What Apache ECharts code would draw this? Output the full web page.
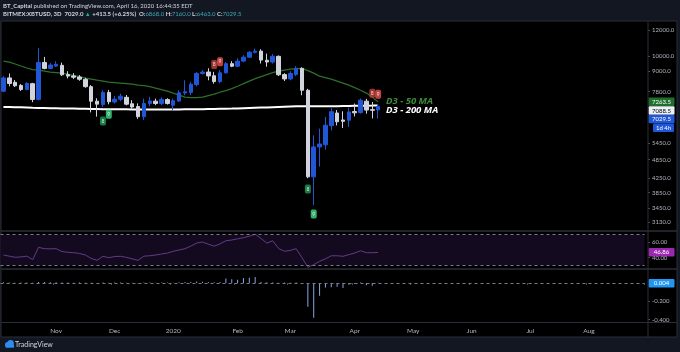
<!DOCTYPE html>
<html>
<head>
<meta charset="utf-8">
<script src="https://cdn.jsdelivr.net/npm/echarts@6/dist/echarts.min.js"></script>
<style>
  html, body { margin: 0; padding: 0; background: #131722; }
  #chart { width: 680px; height: 352px; }
</style>
</head>
<body>
<div id="chart"></div>
<script>
// ---- bars: 3D candles, first bar 2019-10-06 ----
const FIRST_BAR = Date.UTC(2019, 9, 6);
const BAR_DAYS = 3;
const SLOTS = 110; // visible bars incl. empty future space
const MONTHS = ['Jan', 'Feb', 'Mar', 'Apr', 'May', 'Jun', 'Jul', 'Aug', 'Sep', 'Oct', 'Nov', 'Dec'];

// [open, close, low, high]
const candles = [
  [7830, 8590, 7780, 8700], [8590, 8260, 8100, 8860], [8330, 8130, 8060, 8460], [8150, 7920, 7840, 8230],
  [7920, 8260, 7880, 8340], [8250, 7390, 7250, 8300], [7390, 9570, 7340, 10590], [9570, 9180, 9120, 9950],
  [9180, 9400, 9130, 9530], [9330, 9450, 9280, 9650], [9380, 8780, 8710, 9560], [8790, 8700, 8560, 9000],
  [8710, 8630, 8520, 8880], [8640, 8510, 8420, 8760], [8500, 8080, 8020, 8600], [8080, 7300, 6750, 8170],
  [7300, 7150, 6550, 7450], [7130, 7760, 7000, 7880], [7760, 7270, 7140, 7900], [7260, 7400, 7180, 7560],
  [7400, 7560, 7300, 7700], [7500, 7150, 7090, 7620], [7170, 7010, 6930, 7350], [7030, 6550, 6450, 7190],
  [6550, 7180, 6400, 7430], [7180, 7310, 7050, 7530], [7300, 7180, 7100, 7430], [7180, 7390, 7100, 7500],
  [7380, 7180, 7130, 7450], [7100, 7320, 6850, 7430], [7310, 7740, 7260, 7880], [7730, 7800, 7610, 8450],
  [7760, 8220, 7610, 8340], [8200, 8860, 8100, 8950], [8860, 8950, 8790, 9070], [8950, 8710, 8450, 9190],
  [8720, 8370, 8250, 8960], [8370, 8900, 8280, 9070], [8900, 9490, 8860, 9600], [9490, 9320, 9260, 9660],
  [9320, 9660, 9260, 9860], [9660, 9930, 9590, 10070], [9930, 10280, 9860, 10360], [10270, 10360, 10200, 10550],
  [10360, 9730, 9500, 10500], [9720, 9600, 9290, 10180], [9600, 9990, 9500, 10150], [9990, 8780, 8700, 10050],
  [8790, 8530, 8400, 8880], [8530, 8860, 8450, 9000], [8800, 9180, 8700, 9330], [9180, 7880, 7610, 9250],
  [7880, 4300, 4260, 7960], [4300, 5300, 3530, 5750], [5300, 5410, 4620, 6030], [5380, 6170, 5200, 6540],
  [6150, 6780, 5950, 6950], [6720, 6320, 6160, 6860], [6400, 6340, 6050, 6800], [6390, 6770, 6100, 6980],
  [6790, 6730, 6560, 7180], [6740, 7350, 6690, 7440], [7300, 6860, 6690, 7420], [6880, 6850, 6470, 7260],
  [6868, 7029.5, 6463, 7160]
];

const ma50 = [
  9661, 9596, 9464, 9333, 9205, 9104, 9072, 9009, 8945, 8915, 8883, 8820, 8730, 8669, 8576, 8519,
  8456, 8400, 8339, 8312, 8283, 8255, 8222, 8168, 8140, 8083, 7995, 7915, 7833, 7724, 7618, 7511,
  7485, 7485, 7511, 7590, 7670, 7773, 7860, 7970, 8107, 8255, 8400, 8548, 8669, 8791, 8915, 9009,
  9072, 9136, 9168, 9181, 9041, 8883, 8697, 8608, 8519, 8400, 8283, 8168, 8026, 7883, 7724, 7511,
  7263.5
];

const ma200 = [
  7010, 7005, 7000, 6995, 6985, 6970, 6960, 6955, 6950, 6945, 6940, 6935, 6930, 6925, 6920, 6915,
  6910, 6905, 6900, 6900, 6895, 6895, 6890, 6890, 6885, 6885, 6885, 6885, 6885, 6890, 6890, 6895,
  6900, 6900, 6905, 6910, 6915, 6920, 6925, 6930, 6940, 6950, 6960, 6970, 6980, 6990, 7000, 7010,
  7020, 7030, 7040, 7045, 7045, 7045, 7045, 7045, 7050, 7050, 7055, 7060, 7065, 7070, 7075, 7080,
  7088.5
];

const rsi = [
  43.5, 42, 40.5, 41, 42, 37.4, 53.5, 51.7, 51.5, 51.7, 48, 47, 46.5, 45.5, 43.5, 39,
  36.6, 41.8, 40, 41.5, 41.8, 40.5, 38.5, 36.6, 42, 42.5, 43.5, 44.8, 46, 48.3, 50, 51.7,
  55, 59, 60.4, 57.5, 55, 58, 62, 63, 64.5, 66, 68, 70.5, 65, 59, 62, 52,
  48.3, 49.5, 51.7, 40, 27.5, 31, 35.3, 38.5, 42.5, 42.5, 41.8, 44, 46.1, 49, 46.5, 46.5,
  46.86
];

const hist = [
  0.008, 0.006, 0.004, 0.005, 0.006, 0.004, 0.012, 0.010, 0.008, 0.009, 0.006, 0.005, 0.004, 0.006, 0.004, 0.003,
  -0.006, 0.005, 0.004, 0.006, 0.005, 0.004, 0.003, -0.005, 0.006, 0.005, 0.004, 0.006, 0.005, 0.004, 0.008, 0.010,
  0.012, 0.016, 0.014, 0.010, 0.008, 0.012, 0.050, 0.040, 0.035, 0.055, 0.058, 0.066, 0.012, 0.008, 0.006, 0.004,
  0.005, 0.004, 0.006, -0.010, -0.260, -0.380, -0.140, -0.050, -0.045, -0.040, -0.055, -0.020, -0.010, 0.006, -0.025, -0.030,
  0.004
];

// sequential count labels: [bar, price, count]
const countsAbove = [[36, 9430, '8'], [37, 9610, '9'], [63, 7710, '8'], [64, 7665, '9']];
const countsBelow = [[17, 6350, '8'], [18, 6660, '9'], [52, 3950, '8'], [53, 3315, '9']];

const priceTicks = [12000, 10000, 9000, 7800, 5450, 4850, 4250, 3850, 3450, 3130];
const rsiTicks = [60, 40];
const histTicks = [-0.2, -0.4];
const countdown = '1d 4h';

// ---- categories + month labels ----
const cats = [], catLabels = [];
for (let i = 0; i < SLOTS; i++) {
  const d = new Date(FIRST_BAR + i * BAR_DAYS * 864e5);
  cats.push(d.toISOString().slice(0, 10));
  let lab = '';
  if (i > 0) {
    const p = new Date(FIRST_BAR + (i - 1) * BAR_DAYS * 864e5);
    if (p.getUTCMonth() !== d.getUTCMonth()) {
      lab = d.getUTCMonth() === 0 ? String(d.getUTCFullYear()) : MONTHS[d.getUTCMonth()];
    }
  }
  catLabels.push(lab);
}

const UP = '#2157d6', DOWN = '#d1d4dc', TXT = '#b2b5be', LINE = '#2a2e39';
const FONT = 'Lato, sans-serif';
const last = a => a[a.length - 1];

const chart = echarts.init(document.getElementById('chart'), null, { renderer: 'canvas' });

const gridW = 644, gridL = 0.5;
const axisLblBase = { color: TXT, fontSize: 6, fontFamily: FONT, margin: 4 };

function xCat(gi, showLabels) {
  return {
    type: 'category', gridIndex: gi, data: cats, boundaryGap: true,
    axisLine: { show: false },
    axisTick: showLabels ? { show: true, length: 2, lineStyle: { color: '#4a4e59' }, interval: i => catLabels[i] !== '', inside: false } : { show: false },
    axisLabel: showLabels ? {
      show: true, color: TXT, fontSize: 6.5, fontFamily: FONT, margin: 5,
      interval: i => catLabels[i] !== '', formatter: (v, i) => catLabels[i]
    } : { show: false },
    splitLine: { show: false }
  };
}

function yRight(gi, extra) {
  return Object.assign({
    gridIndex: gi, position: 'right', offset: 3.5, scale: true,
    axisLine: { show: false },
    splitLine: { show: false },
    axisTick: { show: true, length: 2, lineStyle: { color: '#4a4e59' } }
  }, extra);
}

function tag(y, text, bg, fg, x, w) {
  return {
    type: 'group', z: 50, children: [
      { type: 'rect', shape: { x: x || 648.5, y: y, width: w || 26, height: 8.5, r: 1 }, style: { fill: bg } },
      { type: 'text', x: (x || 648.5) + (w || 26) / 2, y: y + 4.5, style: { text: text, fill: fg, fontSize: 6, fontFamily: FONT, align: 'center', verticalAlign: 'middle' } }
    ]
  };
}

const countSeries = (data, colors) => ({
  type: 'scatter', xAxisIndex: 0, yAxisIndex: 0, z: 5,
  symbol: 'roundRect', symbolSize: [6, 9],
  data: data.map(d => ({ value: [d[0], d[1]], count: d[2], itemStyle: { color: d[2] === '9' ? colors[1] : colors[0] } })),
  label: { show: true, position: 'inside', formatter: p => p.data.count, color: '#fff', fontSize: 5, fontFamily: FONT }
});

chart.setOption({
  animation: false,
  backgroundColor: '#131722',
  grid: [
    { left: gridL, top: 22, width: gridW, height: 208 },
    { left: gridL, top: 232, width: gridW, height: 36 },
    { left: gridL, top: 270, width: gridW, height: 52 }
  ],
  xAxis: [xCat(0, false), xCat(1, false), xCat(2, true)],
  yAxis: [
    yRight(0, {
      type: 'log', logBase: 10, min: 2965, max: 12700,
      axisLabel: Object.assign({ customValues: priceTicks, formatter: v => Number(v).toFixed(1) }, axisLblBase),
      axisTick: { show: true, length: 2, customValues: priceTicks, lineStyle: { color: '#4a4e59' } }
    }),
    yRight(1, {
      type: 'value', min: 26.6, max: 73.4,
      axisLabel: Object.assign({ customValues: rsiTicks, formatter: v => Number(v).toFixed(2) }, axisLblBase),
      axisTick: { show: true, length: 2, customValues: rsiTicks, lineStyle: { color: '#4a4e59' } }
    }),
    yRight(2, {
      type: 'value', min: -0.425, max: 0.142,
      axisLabel: Object.assign({ customValues: histTicks, formatter: v => Number(v).toFixed(3) }, axisLblBase),
      axisTick: { show: true, length: 2, customValues: histTicks, lineStyle: { color: '#4a4e59' } }
    })
  ],
  graphic: [
    // chart panel + pane separators
    { type: 'rect', z: -10, shape: { x: 1, y: 21, width: 676, height: 316 }, style: { fill: '#000', stroke: LINE, lineWidth: 1 } },
    { type: 'line', z: 40, shape: { x1: 648, y1: 21, x2: 648, y2: 337 }, style: { stroke: LINE, lineWidth: 1 } },
    { type: 'line', z: 40, shape: { x1: 1, y1: 231, x2: 677, y2: 231 }, style: { stroke: LINE, lineWidth: 1.5 } },
    { type: 'line', z: 40, shape: { x1: 1, y1: 269, x2: 677, y2: 269 }, style: { stroke: LINE, lineWidth: 1.5 } },
    { type: 'line', z: 40, shape: { x1: 1, y1: 322.5, x2: 677, y2: 322.5 }, style: { stroke: LINE, lineWidth: 1 } },
    // header
    {
      type: 'text', left: 3, top: 3, style: {
        text: '{b|BT_Capital} published on TradingView.com, April 16, 2020 16:44:35 EDT',
        fill: '#d1d4dc', fontSize: 6, fontFamily: FONT, rich: { b: { fontWeight: 'bold', fontSize: 6, fontFamily: FONT, fill: '#d1d4dc' } }
      }
    },
    {
      type: 'text', left: 3, top: 11, style: {
        text: 'BITMEX:XBTUSD, 3D  7029.0 {g|▲} +413.5 (+6.25%)  O:{v|6868.0} H:{v|7160.0} L:{v|6463.0} C:{v|7029.5}',
        fill: '#d1d4dc', fontSize: 6, fontFamily: FONT, fontWeight: 'bold',
        rich: { g: { fill: '#26a69a', fontSize: 6 }, v: { fill: '#3fa7b5', fontSize: 6, fontWeight: 'normal', fontFamily: FONT } }
      }
    },
    // MA names
    { type: 'text', z: 30, x: 386, y: 101.5, style: { text: 'D3 - 50 MA', fill: '#3c8c3c', fontSize: 9.5, fontWeight: 'bold', fontStyle: 'italic', fontFamily: 'Open Sans, sans-serif', verticalAlign: 'middle' } },
    { type: 'text', z: 30, x: 386, y: 110.5, style: { text: 'D3 - 200 MA', fill: '#ffffff', fontSize: 9.5, fontWeight: 'bold', fontStyle: 'italic', fontFamily: 'Open Sans, sans-serif', verticalAlign: 'middle' } },
    // price axis tags
    tag(97.5, last(ma50).toFixed(1), '#1e6e2e', '#fff'),
    tag(106.3, last(ma200).toFixed(1), '#eceff4', '#000'),
    tag(114.8, last(candles)[1].toFixed(1), UP, '#fff'),
    tag(123.5, countdown, UP, '#fff', 653, 21),
    tag(248, last(rsi).toFixed(2), '#9c27b0', '#fff'),
    tag(279, last(hist).toFixed(3), '#2196f3', '#fff'),
    // footer logo
    {
      type: 'group', left: 5, top: 340, children: [
        { type: 'circle', shape: { cx: 3, cy: 5, r: 2.6 }, style: { fill: '#2f8cf0' } },
        { type: 'circle', shape: { cx: 6, cy: 3.5, r: 3.2 }, style: { fill: '#2f8cf0' } },
        { type: 'rect', shape: { x: 1, y: 5, width: 8.5, height: 3 }, style: { fill: '#2f8cf0' } }
      ]
    },
    { type: 'text', left: 15, top: 341, style: { text: 'TradingView', fill: '#d1d4dc', fontSize: 7, fontFamily: FONT } }
  ],
  series: [
    {
      type: 'candlestick', xAxisIndex: 0, yAxisIndex: 0, data: candles, barWidth: 4, z: 3,
      itemStyle: { color: UP, color0: DOWN, borderColor: UP, borderColor0: DOWN, borderWidth: 1 }
    },
    {
      type: 'line', xAxisIndex: 0, yAxisIndex: 0, data: ma50, symbol: 'none', z: 2,
      lineStyle: { color: '#2c702c', width: 1.2 }
    },
    {
      type: 'line', xAxisIndex: 0, yAxisIndex: 0, data: ma200, symbol: 'none', z: 2,
      lineStyle: { color: '#ffffff', width: 2 }
    },
    countSeries(countsAbove, ['#c2403a', '#ef5350']),
    countSeries(countsBelow, ['#1f9a55', '#3ddc84']),
    {
      type: 'line', xAxisIndex: 1, yAxisIndex: 1, data: rsi, symbol: 'none',
      lineStyle: { color: '#653a85', width: 1 },
      markArea: { silent: true, itemStyle: { color: '#140a20' }, data: [[{ yAxis: 30 }, { yAxis: 70 }]] },
      markLine: {
        silent: true, symbol: 'none', label: { show: false },
        lineStyle: { color: '#787b86', type: [3, 3], width: 1 },
        data: [{ yAxis: 70 }, { yAxis: 30 }]
      }
    },
    {
      type: 'bar', xAxisIndex: 2, yAxisIndex: 2, data: hist, barWidth: 1,
      itemStyle: { color: '#8aa6e6' },
      markLine: {
        silent: true, symbol: 'none', label: { show: false },
        lineStyle: { color: '#787b86', type: [3, 3], width: 1 },
        data: [{ yAxis: 0 }]
      }
    }
  ]
});
</script>
</body>
</html>
